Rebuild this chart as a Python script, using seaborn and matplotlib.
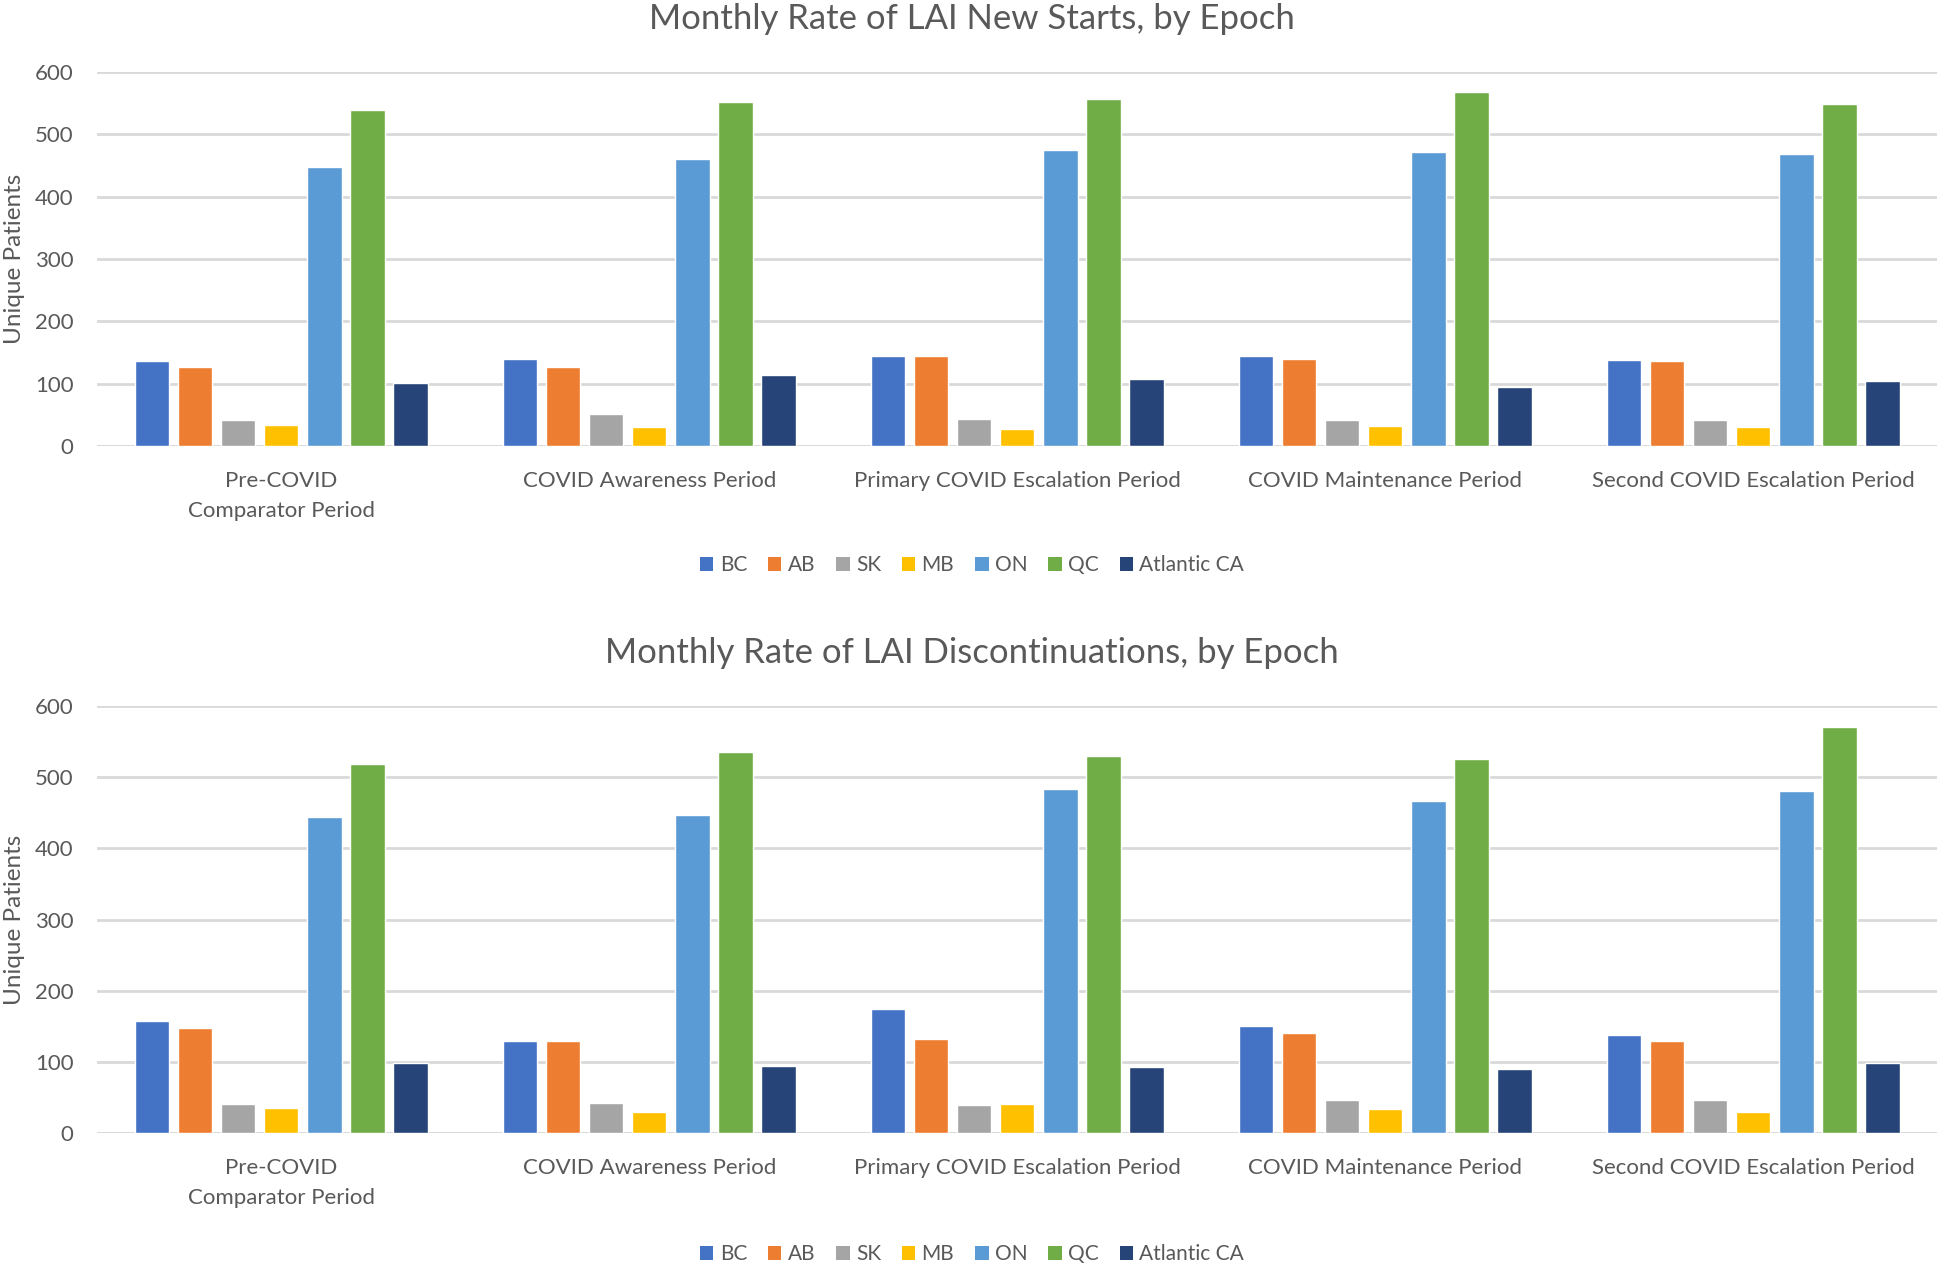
import matplotlib
matplotlib.use('Agg')
import matplotlib.pyplot as plt
import seaborn as sns
import pandas as pd
from matplotlib.patches import Patch

epochs = ["Pre-COVID\nComparator Period", "COVID Awareness Period",
          "Primary COVID Escalation Period", "COVID Maintenance Period",
          "Second COVID Escalation Period"]
regions = ["BC", "AB", "SK", "MB", "ON", "QC", "Atlantic CA"]

# values per region, one entry per epoch
starts_bc = [136, 140, 144, 145, 138]
starts_ab = [126, 126, 145, 140, 137]
starts_sk = [42, 52, 43, 42, 42]
starts_mb = [34, 31, 28, 32, 30]
starts_on = [448, 461, 475, 471, 468]
starts_qc = [539, 552, 556, 568, 549]
starts_atl = [101, 114, 107, 95, 104]

disc_bc = [157, 129, 175, 150, 138]
disc_ab = [147, 130, 132, 141, 130]
disc_sk = [41, 42, 39, 47, 47]
disc_mb = [35, 29, 41, 34, 30]
disc_on = [444, 447, 484, 467, 481]
disc_qc = [519, 535, 530, 525, 570]
disc_atl = [98, 94, 93, 90, 98]

colors = ["#4472C4", "#ED7D31", "#A5A5A5", "#FFC000", "#5B9BD5", "#70AD47", "#264478"]
text_col = "#595959"
grid_col = "#D9D9D9"


def to_long(series):
    rows = []
    for reg, vals in zip(regions, series):
        for ep, v in zip(epochs, vals):
            rows.append({"Epoch": ep, "Region": reg, "Patients": v})
    return pd.DataFrame(rows)


df_starts = to_long([starts_bc, starts_ab, starts_sk, starts_mb, starts_on, starts_qc, starts_atl])
df_disc = to_long([disc_bc, disc_ab, disc_sk, disc_mb, disc_on, disc_qc, disc_atl])

sns.set_theme(style="white")
plt.rcParams['font.family'] = ['Lato', 'DejaVu Sans']

fig = plt.figure(figsize=(19.44, 12.65), dpi=100)
ax_top = fig.add_axes([0.0500, 0.6474, 0.9465, 0.2957])
ax_bot = fig.add_axes([0.0500, 0.1043, 0.9465, 0.3375])

panels = [(ax_top, df_starts, "Monthly Rate of LAI New Starts, by Epoch", 0.5534, 0.985),
          (ax_bot, df_disc, "Monthly Rate of LAI Discontinuations, by Epoch", 0.0087, 0.484)]

for ax, df, title, leg_y, title_y in panels:
    sns.barplot(data=df, x="Epoch", y="Patients", hue="Region", order=epochs,
                hue_order=regions, palette=colors, width=0.82, gap=0.2,
                saturation=1, ax=ax, legend=False, zorder=3)
    ax.set_ylim(0, 600)
    ax.set_xlim(-0.5, len(epochs) - 0.5)
    ax.set_yticks(range(0, 601, 100))
    ax.yaxis.grid(True, color=grid_col, linewidth=2, zorder=0)
    ax.set_axisbelow(True)
    for s in ax.spines.values():
        s.set_visible(False)
    ax.axhline(0, color=grid_col, linewidth=2, zorder=1)
    ax.tick_params(axis='both', length=0, labelsize=16, colors=text_col)
    ax.tick_params(axis='x', pad=18)
    ax.tick_params(axis='y', pad=17)
    for lbl in ax.get_xticklabels():
        lbl.set_linespacing(1.65)
    ax.set_xlabel("")
    ax.set_ylabel("Unique Patients", fontsize=17.5, color=text_col, va='center')
    ax.yaxis.set_label_coords(-0.045, 0.5)
    fig.text(0.5, title_y, title, ha='center', va='center', fontsize=25, color=text_col)
    handles = [Patch(facecolor=c, edgecolor='none', label=r) for c, r in zip(colors, regions)]
    fig.legend(handles=handles, loc='center', bbox_to_anchor=(0.5, leg_y), ncol=7,
               frameon=False, fontsize=15, handlelength=0.65, handleheight=0.65,
               handletextpad=0.3, columnspacing=1.0, labelcolor=text_col)

fig.savefig("out.png", dpi=100)
